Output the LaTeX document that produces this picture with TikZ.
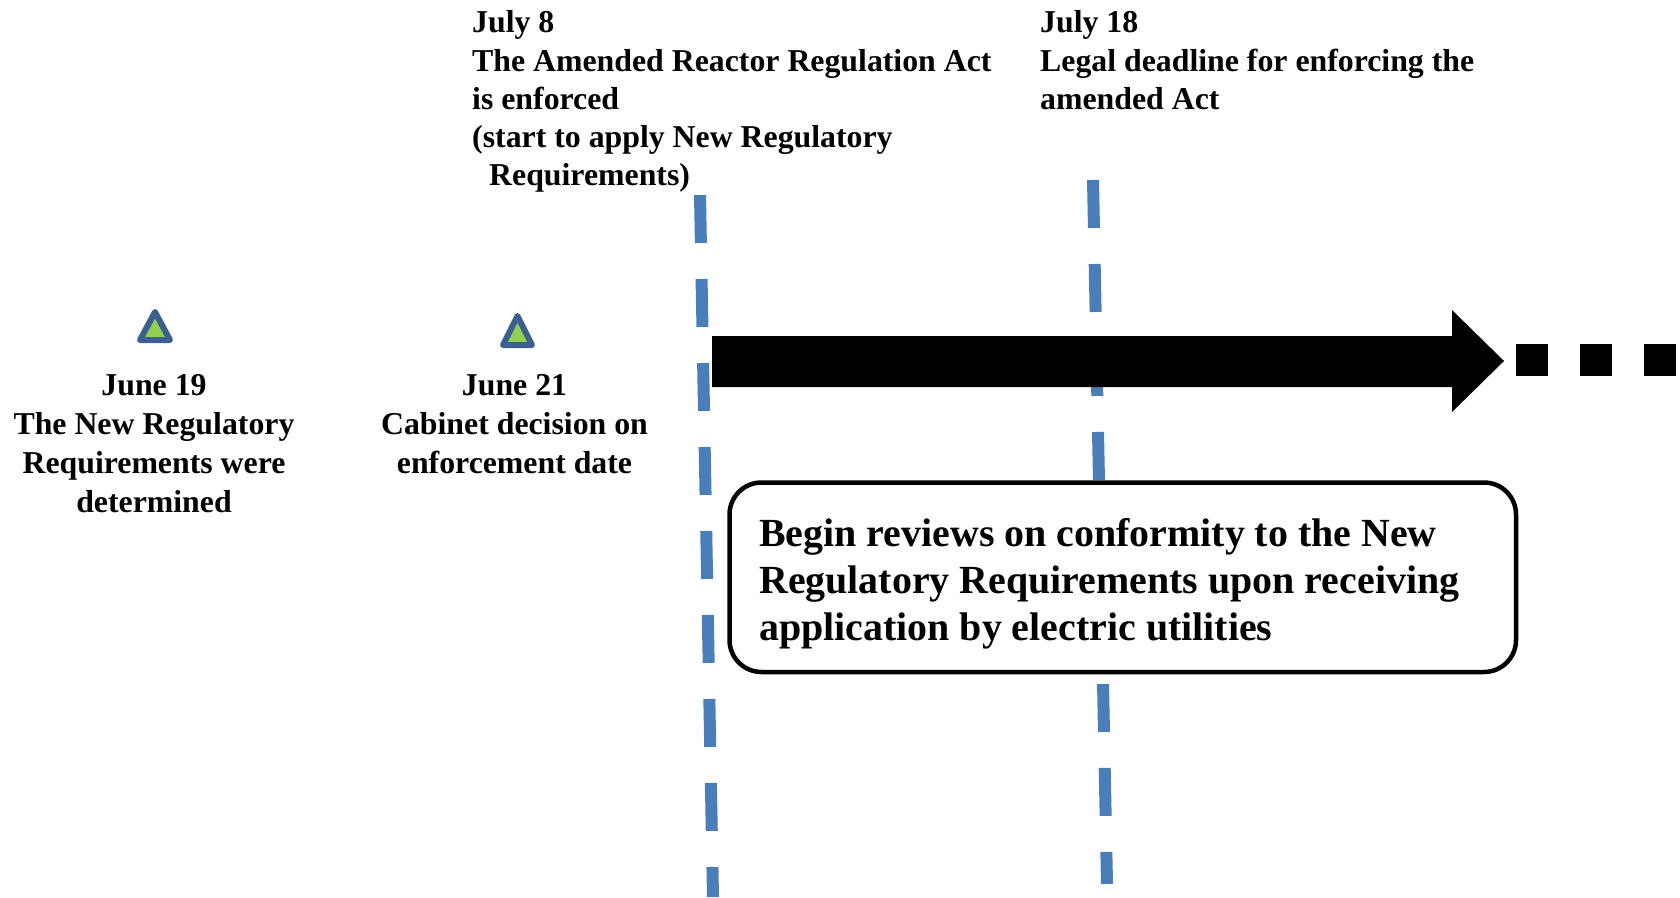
\documentclass[tikz,border=0pt]{standalone}
\usepackage{fontspec}
\setmainfont{Liberation Serif}
\definecolor{dashblue}{HTML}{4A7EBB}
\definecolor{triedge}{HTML}{3B5F8E}
\definecolor{trifill}{HTML}{92D050}
\begin{document}
\begin{tikzpicture}[x=1pt,y=-1pt,
  toplbl/.style={inner sep=0pt, font=\bfseries\fontsize{31.8}{38.3}\selectfont, align=left, anchor=north west},
  junelbl/.style={inner sep=0pt, font=\bfseries\fontsize{31.8}{39}\selectfont, align=center, anchor=north},
  boxtxt/.style={inner sep=0pt, font=\bfseries\fontsize{39.9}{46.6}\selectfont, align=left, anchor=north west},
  vline/.style={line width=12pt, dashblue, dash pattern=on 48pt off 36pt},
  marker/.style={draw=triedge, fill=trifill, line width=6pt, line join=round},
  reviewbox/.style={draw=black, fill=white, line width=4.5pt, rounded corners=32pt, inner sep=0pt, minimum width=786.5pt, minimum height=189.5pt}
]
\useasboundingbox (0,0) rectangle (1680,897);

% dashed vertical lines
\coordinate (l1a) at (700,195);
\coordinate (l1b) at (713,897);
\coordinate (l2a) at (1093,180);
\coordinate (l2b) at (1107,884);
\draw[vline] (l1a) -- (l1b);
\draw[vline] (l2a) -- (l2b);

% big arrow
\fill[black] (712,336) -- (1452,336) -- (1452,310) -- (1504,361) -- (1452,412) -- (1452,387) -- (712,387) -- cycle;
% trailing dots
\fill[black] (1516,344) rectangle (1548,376);
\fill[black] (1580,344) rectangle (1612,376);
\fill[black] (1644,344) rectangle (1676,376);

% triangles
\draw[marker] (155,312) -- (170,340) -- (140,340) -- cycle;
\draw[marker] (517.5,316) -- (532,345) -- (503,345) -- cycle;

% labels
\node[toplbl] (jul8) at (472,10.5) {July 8\\The Amended Reactor Regulation Act\\is enforced\\(start to apply New Regulatory\\\hspace*{17pt}Requirements)};
\node[toplbl] (jul18) at (1040,10.5) {July 18\\Legal deadline for enforcing the\\amended Act};
\node[junelbl] (jun19) at (154,374.5) {June 19\\The New Regulatory\\Requirements were\\determined};
\node[junelbl] (jun21) at (514.5,374.5) {June 21\\Cabinet decision on\\enforcement date};

% review box
\node[reviewbox] (box) at (1122.75,577.25) {};
\node[boxtxt] (boxtext) at (759,518.5) {Begin reviews on conformity to the New\\Regulatory Requirements upon receiving\\application by electric utilities};
\end{tikzpicture}
\end{document}
